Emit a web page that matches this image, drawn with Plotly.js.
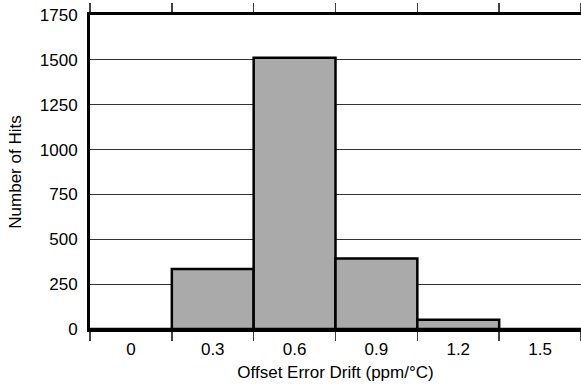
<!DOCTYPE html>
<html><head><meta charset="utf-8">
<script src="https://cdn.plot.ly/plotly-3.0.1.min.js"></script>
<style>html,body{margin:0;padding:0;overflow:hidden;background:#fff}</style>
</head><body><div id="chart" style="width:581px;height:388px"></div>
<script>
const categories = ['0', '0.3', '0.6', '0.9', '1.2', '1.5'];
const hits = [0, 335, 1512, 393, 52, 0];
const yTicks = [0, 250, 500, 750, 1000, 1250, 1500, 1750];

const font = {family: 'Liberation Sans, Arial, sans-serif', size: 17, color: '#000'};

Plotly.newPlot('chart', [{
  type: 'bar',
  x: categories,
  y: hits,
  width: 1,
  marker: {color: '#aaaaaa', line: {color: '#000', width: 2.5}},
  hoverinfo: 'skip'
}], {
  width: 581, height: 388,
  margin: {l: 90, r: 0, t: 15, b: 59},
  paper_bgcolor: '#fff', plot_bgcolor: '#fff',
  font: font,
  showlegend: false,
  bargap: 0,
  xaxis: {
    type: 'category',
    tickson: 'boundaries',
    ticks: 'outside', ticklen: 9, tickwidth: 1.5, tickcolor: '#444',
    ticklabelstandoff: 3,
    showline: true, linewidth: 3, linecolor: '#000', mirror: 'ticks',
    showgrid: false, zeroline: false,
    tickfont: font,
    title: {text: 'Offset Error Drift (ppm/°C)', font: font, standoff: 8}
  },
  yaxis: {
    range: [0, 1750],
    tickvals: yTicks,
    ticktext: yTicks.map(String),
    ticks: '', showline: true, linewidth: 3, linecolor: '#000', mirror: false,
    ticklabelstandoff: 6,
    showgrid: true, gridcolor: '#333', gridwidth: 1, zeroline: false,
    tickfont: font,
    title: {text: 'Number of Hits', font: font, standoff: 14}
  }
}, {staticPlot: true, displayModeBar: false});
</script></body></html>
